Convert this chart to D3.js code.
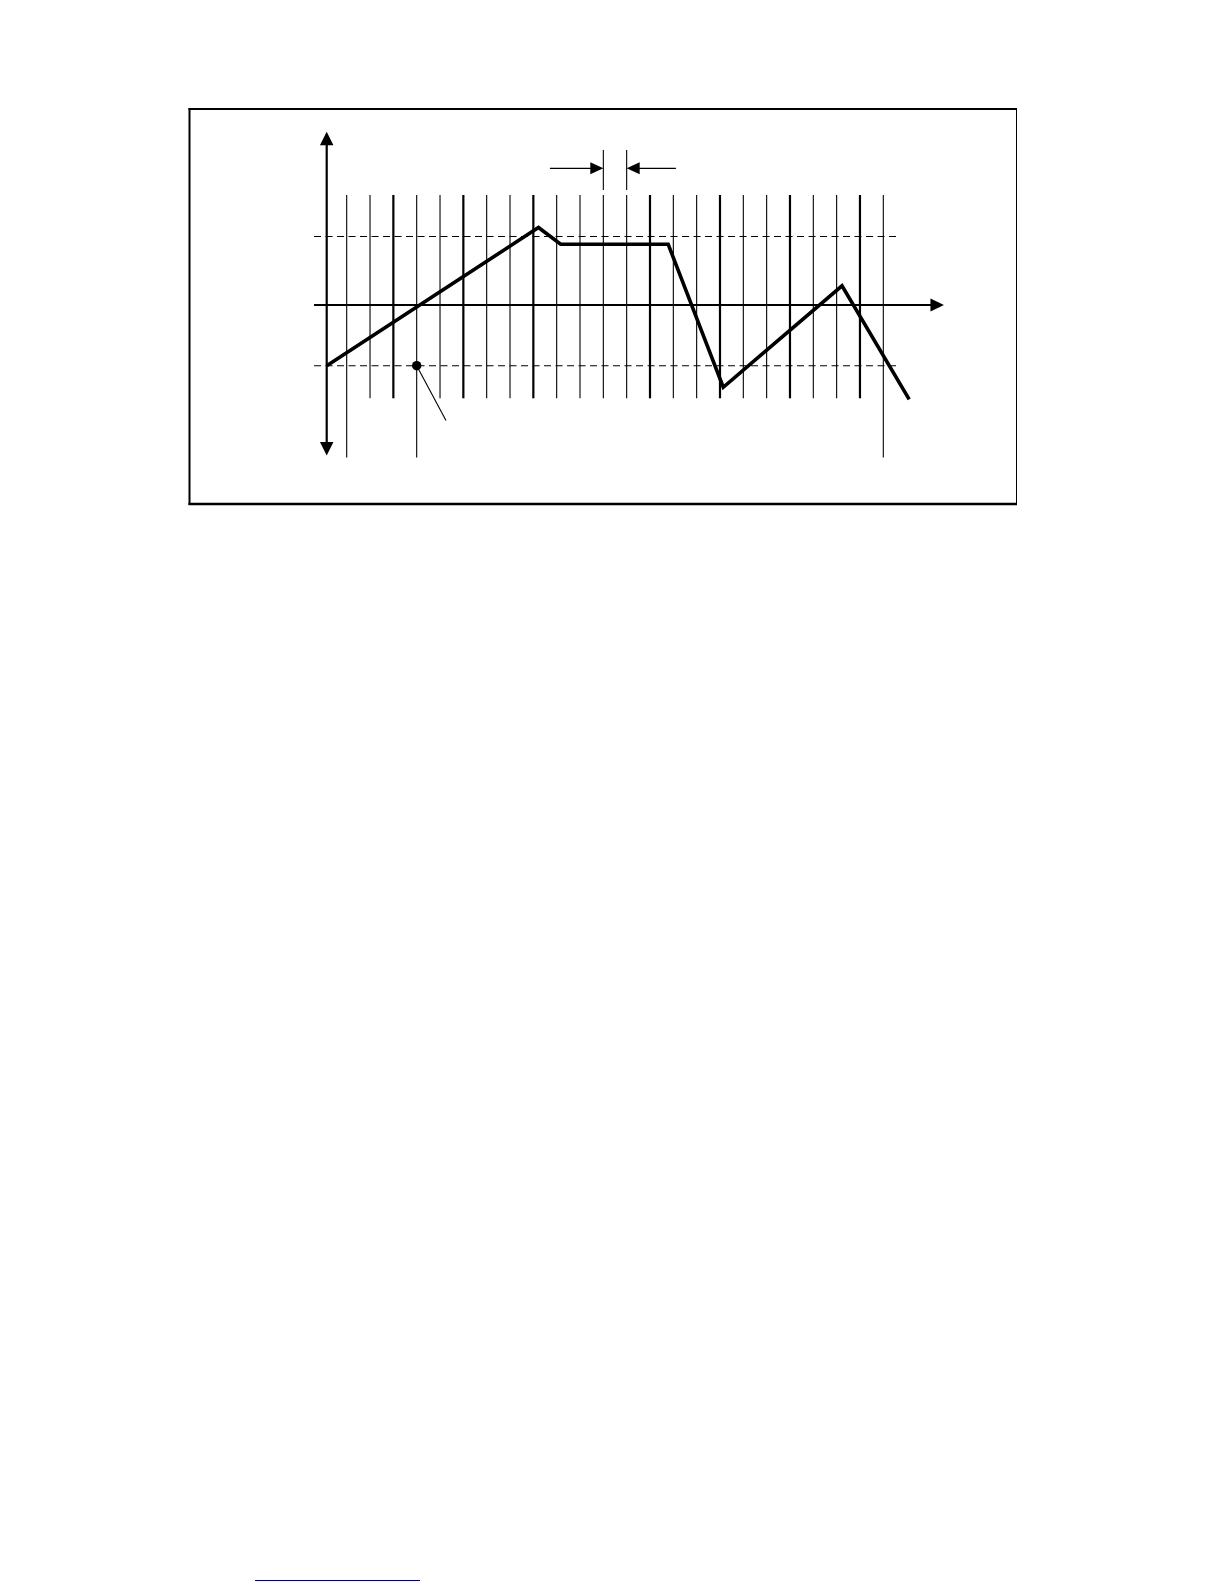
<!DOCTYPE html>
<html>
<head>
<meta charset="utf-8">
<script src="https://cdn.jsdelivr.net/npm/d3@7"></script>
<style>
  body { margin: 0; background: #fff; }
  svg { display: block; }
</style>
</head>
<body>
<script>
// grid lines, counted in clock periods
const gridIdx = d3.range(24);
const thickIdx = [2, 5, 8, 13, 16, 19, 22];
const longIdx = [0, 3, 23];
const markIdx = [11, 12];

// signal trace (t in periods, v relative to upper threshold)
const pulseT = [-0.857, 8.22, 9.17, 13.78, 16.14, 21.23, 24.11];
const pulseV = [-0.886, 1.131, 0.886, 0.886, -1.201, 0.28, -1.377];

// dashed threshold levels
const levels = [1, -0.886];

// marked sample point and its leader
const dotT = 3, dotV = -0.886;
const leadT = 4.256, leadV = -1.686;

const width = 1224, height = 1584;

const svg = d3.select("body").append("svg")
  .attr("width", width)
  .attr("height", height);

const x = d3.scaleLinear().domain([0, 23]).range([346.7, 883.3]);
const y = d3.scaleLinear().domain([0, 1]).range([305, 236.5]);

const axisT = -0.857;          // where the vertical axis sits
const xMin = -1.4, xMax = 25.6, dashMax = 23.71;
const yTop = 2.53, yBot = -2.197;
const gridTop = 1.606, gridBot = -1.362, longBot = -2.226;
const markTop = 2.263, markBot = 1.679, dimV = 1.995;

// frame
const frame = svg.append("g").attr("stroke", "#000");
frame.append("line").attr("x1", 188.5).attr("x2", 1017).attr("y1", 109).attr("y2", 109).attr("stroke-width", 2);
frame.append("line").attr("x1", 189.5).attr("x2", 189.5).attr("y1", 108).attr("y2", 505).attr("stroke-width", 2);
frame.append("line").attr("x1", 188.5).attr("x2", 1017).attr("y1", 504).attr("y2", 504).attr("stroke-width", 2.5);
frame.append("line").attr("x1", 1016.5).attr("x2", 1016.5).attr("y1", 108).attr("y2", 505).attr("stroke-width", 1);

// vertical grid
svg.append("g").selectAll("line")
  .data(gridIdx)
  .enter().append("line")
  .attr("x1", d => x(d))
  .attr("x2", d => x(d))
  .attr("y1", y(gridTop))
  .attr("y2", d => y(longIdx.includes(d) ? longBot : gridBot))
  .attr("stroke", "#000")
  .attr("stroke-width", d => thickIdx.includes(d) ? 2.2 : 1.1);

// threshold lines
svg.append("g").selectAll("line")
  .data(levels)
  .enter().append("line")
  .attr("x1", x(xMin))
  .attr("x2", x(dashMax))
  .attr("y1", d => y(d))
  .attr("y2", d => y(d))
  .attr("stroke", "#000")
  .attr("stroke-width", 1.1)
  .attr("stroke-dasharray", "7,4.5");

// axes
function tri(cx, cy, dir, w, h) {
  // dir: "up", "down", "right", "left"
  if (dir === "up") return `M${cx},${cy}L${cx - w / 2},${cy + h}L${cx + w / 2},${cy + h}Z`;
  if (dir === "down") return `M${cx},${cy}L${cx - w / 2},${cy - h}L${cx + w / 2},${cy - h}Z`;
  if (dir === "right") return `M${cx},${cy}L${cx - h},${cy - w / 2}L${cx - h},${cy + w / 2}Z`;
  return `M${cx},${cy}L${cx + h},${cy - w / 2}L${cx + h},${cy + w / 2}Z`;
}

const axes = svg.append("g");
axes.append("line")
  .attr("x1", x(xMin)).attr("x2", x(xMax) - 8)
  .attr("y1", y(0)).attr("y2", y(0))
  .attr("stroke", "#000").attr("stroke-width", 2.2);
axes.append("path").attr("d", tri(x(xMax), y(0), "right", 13, 13.5)).attr("fill", "#000");

axes.append("line")
  .attr("x1", x(axisT)).attr("x2", x(axisT))
  .attr("y1", y(yTop) + 8).attr("y2", y(yBot) - 8)
  .attr("stroke", "#000").attr("stroke-width", 2.2);
axes.append("path").attr("d", tri(x(axisT), y(yTop), "up", 13.5, 13.5)).attr("fill", "#000");
axes.append("path").attr("d", tri(x(axisT), y(yBot), "down", 13.5, 13.5)).attr("fill", "#000");

// period markers and dimension arrows
svg.append("g").selectAll("line")
  .data(markIdx)
  .enter().append("line")
  .attr("x1", d => x(d)).attr("x2", d => x(d))
  .attr("y1", y(markTop)).attr("y2", y(markBot))
  .attr("stroke", "#000").attr("stroke-width", 1.1);

const dim = svg.append("g");
dim.append("line")
  .attr("x1", x(8.71)).attr("x2", x(markIdx[0]) - 10)
  .attr("y1", y(dimV)).attr("y2", y(dimV))
  .attr("stroke", "#000").attr("stroke-width", 1.1);
dim.append("path").attr("d", tri(x(markIdx[0]), y(dimV), "right", 12, 13)).attr("fill", "#000");
dim.append("line")
  .attr("x1", x(markIdx[1]) + 10).attr("x2", x(14.11))
  .attr("y1", y(dimV)).attr("y2", y(dimV))
  .attr("stroke", "#000").attr("stroke-width", 1.1);
dim.append("path").attr("d", tri(x(markIdx[1]), y(dimV), "left", 12, 13)).attr("fill", "#000");

// signal trace
const trace = d3.line()
  .x(d => x(d[0]))
  .y(d => y(d[1]));

svg.append("path")
  .datum(d3.zip(pulseT, pulseV))
  .attr("d", trace)
  .attr("fill", "none")
  .attr("stroke", "#000")
  .attr("stroke-width", 3.6)
  .attr("stroke-linejoin", "miter");

// sample dot with leader
svg.append("line")
  .attr("x1", x(dotT)).attr("y1", y(dotV))
  .attr("x2", x(leadT)).attr("y2", y(leadV))
  .attr("stroke", "#000").attr("stroke-width", 1.1);
svg.append("circle")
  .attr("cx", x(dotT)).attr("cy", y(dotV))
  .attr("r", 4.7)
  .attr("fill", "#000");

// link underline at page foot
svg.append("line")
  .attr("x1", 255).attr("x2", 420)
  .attr("y1", 1580.5).attr("y2", 1580.5)
  .attr("stroke", "#000080").attr("stroke-width", 1);
</script>
</body>
</html>
